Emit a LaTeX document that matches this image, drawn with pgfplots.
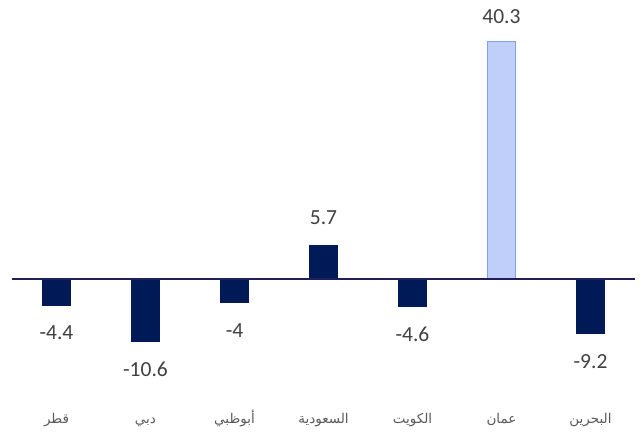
\documentclass[border=0pt]{standalone}
\usepackage{pgfplots}
\pgfplotsset{compat=1.18}
\usepackage{fontspec}
\setmainfont{Carlito}
\newfontfamily\arabicfont[Script=Arabic]{DejaVu Sans}
\TeXXeTstate=1
\definecolor{navy}{RGB}{0,26,87}
\definecolor{zline}{RGB}{34,30,90}
\definecolor{lblue}{RGB}{192,206,250}
\definecolor{lblueedge}{RGB}{130,160,238}
\definecolor{valgray}{RGB}{64,64,64}
\definecolor{labgray}{RGB}{89,89,89}
\begin{document}
\begin{tikzpicture}
\begin{axis}[
  scale only axis,
  width=623pt, height=383.5pt,
  xmin=-0.5, xmax=6.5, ymin=-20, ymax=45,
  axis line style={draw=none},
  major tick length=0pt,
  ytick=\empty,
  xtick={0,1,2,3,4,5,6},
  xticklabels={{\beginR قطر\endR},{\beginR دبي\endR},{\beginR أبوظبي\endR},{\beginR السعودية\endR},{\beginR الكويت\endR},{\beginR عمان\endR},{\beginR البحرين\endR}},
  xticklabel style={font=\arabicfont\fontsize{13.5}{15}\selectfont, text=labgray, anchor=base, yshift=-27pt},
  ybar, bar width=28pt, bar shift=0pt,
  clip=false,
  nodes near coords,
  nodes near coords style={font=\fontsize{21.5}{25}\selectfont, text=valgray, anchor=center},
  /pgf/number format/assume math mode=true,
]
\addplot[fill=navy, draw=navy, nodes near coords style={yshift=-28pt}]
  coordinates {(0,-4.4) (1,-10.6) (2,-4) (4,-4.6) (6,-9.2)};
\addplot[fill=navy, draw=navy, nodes near coords style={yshift=28pt}]
  coordinates {(3,5.7)};
\addplot[fill=lblue, draw=lblueedge, line width=1.1pt, nodes near coords style={yshift=25pt}]
  coordinates {(5,40.3)};
\draw[zline, line width=1.6pt] (axis cs:-0.5,0) -- (axis cs:6.5,0);
\end{axis}
\path[use as bounding box] ([shift={(-12pt,-42pt)}]current axis.south west) rectangle ([shift={(8pt,13.5pt)}]current axis.north east);
\end{tikzpicture}
\end{document}
